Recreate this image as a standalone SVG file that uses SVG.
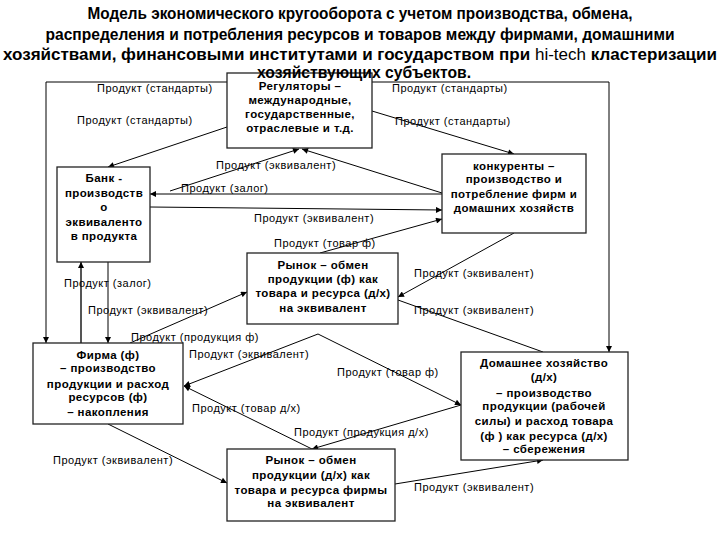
<svg xmlns="http://www.w3.org/2000/svg" width="720" height="540" viewBox="0 0 720 540">
<defs>
<marker id="ar" viewBox="0 0 10 10" refX="10" refY="5" markerWidth="7" markerHeight="6" markerUnits="userSpaceOnUse" orient="auto">
<path d="M0,0 L10,5 L0,10 z" fill="#000"/>
</marker>
<style>
.t{font-family:"Liberation Sans",Arial,sans-serif;font-weight:bold;font-size:16px;fill:#000;text-anchor:middle}
.n{fill:#fff;stroke:#222;stroke-width:1.3}
.nt{font-family:"Liberation Sans",Arial,sans-serif;font-weight:bold;font-size:11.5px;letter-spacing:0.4px;fill:#000;text-anchor:middle}
.c{fill:none;stroke:#000;stroke-width:1}
.ca{fill:none;stroke:#000;stroke-width:1;marker-end:url(#ar)}
.l{font-family:"Liberation Sans",Arial,sans-serif;font-size:11px;letter-spacing:0.5px;fill:#000}
</style>
</defs>
<rect width="720" height="540" fill="#fff"/>

<g id="connectors">
<polyline class="ca" points="227,82 46,82 46,343"/>
<polyline class="ca" points="372,82 609,82 609,352"/>
<line class="ca" x1="227" y1="127" x2="108" y2="167"/>
<line class="ca" x1="372" y1="111" x2="514" y2="154"/>
<line class="ca" x1="170" y1="191" x2="299" y2="149"/>
<line class="ca" x1="442" y1="193" x2="302" y2="149"/>
<line class="ca" x1="442" y1="194" x2="150" y2="194"/>
<line class="ca" x1="150" y1="207" x2="442" y2="210"/>
<line class="ca" x1="320" y1="253" x2="442" y2="219"/>
<line class="ca" x1="514" y1="233" x2="398" y2="297"/>
<line class="c" x1="398" y1="300" x2="543" y2="352"/>
<line class="ca" x1="81" y1="343" x2="81" y2="262" style="stroke:#555;stroke-width:2"/>
<line class="ca" x1="108" y1="262" x2="108" y2="343"/>
<line class="ca" x1="130" y1="343" x2="247" y2="292"/>
<line class="ca" x1="318" y1="334" x2="184" y2="386"/>
<line class="ca" x1="318" y1="334" x2="461" y2="405"/>
<line class="ca" x1="312" y1="449" x2="184" y2="386"/>
<line class="ca" x1="461" y1="405" x2="312" y2="449"/>
<line class="ca" x1="108" y1="424" x2="227" y2="483"/>
<line class="ca" x1="395" y1="484" x2="543" y2="460"/>
</g>

<g id="labels">
<text class="l" x="97" y="92">Продукт (стандарты)</text>
<text class="l" x="392" y="92">Продукт (стандарты)</text>
<text class="l" x="77" y="124">Продукт (стандарты)</text>
<text class="l" x="395" y="125">Продукт (стандарты)</text>
<text class="l" x="216" y="169">Продукт (эквивалент)</text>
<text class="l" x="181" y="192">Продукт (залог)</text>
<text class="l" x="254" y="222">Продукт (эквивалент)</text>
<text class="l" x="274" y="247">Продукт (товар ф)</text>
<text class="l" x="414" y="277">Продукт (эквивалент)</text>
<text class="l" x="64" y="287">Продукт (залог)</text>
<text class="l" x="414" y="314">Продукт (эквивалент)</text>
<text class="l" x="88" y="314">Продукт (эквивалент)</text>
<text class="l" x="131" y="341">Продукт (продукция ф)</text>
<text class="l" x="189" y="358">Продукт (эквивалент)</text>
<text class="l" x="337" y="376">Продукт (товар ф)</text>
<text class="l" x="192" y="412">Продукт (товар д/х)</text>
<text class="l" x="294" y="436">Продукт (продукция д/х)</text>
<text class="l" x="53" y="464">Продукт (эквивалент)</text>
<text class="l" x="414" y="491">Продукт (эквивалент)</text>
</g>

<g id="regulators">
<rect class="n" x="227" y="73" width="145" height="75"/>
<text class="nt" x="300" y="90">Регуляторы –</text>
<text class="nt" x="300" y="104">международные,</text>
<text class="nt" x="300" y="118">государственные,</text>
<text class="nt" x="300" y="132">отраслевые и т.д.</text>
</g>

<g id="bank">
<rect class="n" x="57" y="167" width="93" height="95"/>
<text class="nt" x="104" y="182">Банк -</text>
<text class="nt" x="104" y="197">производств</text>
<text class="nt" x="104" y="211">о</text>
<text class="nt" x="104" y="226">эквиваленто</text>
<text class="nt" x="104" y="240">в продукта</text>
</g>

<g id="competitors">
<rect class="n" x="442" y="154" width="144" height="79"/>
<text class="nt" x="514" y="170">конкуренты –</text>
<text class="nt" x="514" y="183">производство и</text>
<text class="nt" x="514" y="198">потребление фирм и</text>
<text class="nt" x="514" y="212">домашних хозяйств</text>
</g>

<g id="market-f">
<rect class="n" x="247" y="253" width="151" height="71"/>
<text class="nt" x="323" y="269">Рынок – обмен</text>
<text class="nt" x="323" y="283">продукции (ф) как</text>
<text class="nt" x="323" y="297">товара и ресурса (д/х)</text>
<text class="nt" x="323" y="312">на эквивалент</text>
</g>

<g id="firm">
<rect class="n" x="33" y="343" width="150" height="81"/>
<text class="nt" x="108" y="359">Фирма (ф)</text>
<text class="nt" x="108" y="372">– производство</text>
<text class="nt" x="108" y="388">продукции и расход</text>
<text class="nt" x="108" y="401">ресурсов (ф)</text>
<text class="nt" x="108" y="416">– накопления</text>
</g>

<g id="household">
<rect class="n" x="461" y="352" width="167" height="108"/>
<text class="nt" x="544" y="367">Домашнее хозяйство</text>
<text class="nt" x="544" y="381">(д/х)</text>
<text class="nt" x="544" y="397">– производство</text>
<text class="nt" x="544" y="410">продукции  (рабочей</text>
<text class="nt" x="544" y="425">силы) и расход товара</text>
<text class="nt" x="544" y="440">(ф ) как ресурса (д/х)</text>
<text class="nt" x="544" y="453">– сбережения</text>
</g>

<g id="market-hh">
<rect class="n" x="227" y="449" width="168" height="72"/>
<text class="nt" x="311" y="464">Рынок – обмен</text>
<text class="nt" x="311" y="479">продукции (д/х) как</text>
<text class="nt" x="311" y="494">товара  и ресурса фирмы</text>
<text class="nt" x="311" y="507">на эквивалент</text>
</g>

<g id="title">
<text class="t" x="360" y="19" textLength="545" lengthAdjust="spacingAndGlyphs">Модель экономического кругооборота с учетом производства, обмена,</text>
<text class="t" x="360" y="40" textLength="629" lengthAdjust="spacingAndGlyphs">распределения и потребления ресурсов и товаров между фирмами, домашними</text>
<text class="t" x="360" y="60" textLength="714" lengthAdjust="spacingAndGlyphs">хозяйствами, финансовыми институтами и государством при <tspan font-weight="normal">hi-tech</tspan> кластеризации</text>
<text class="t" x="364" y="78" textLength="214" lengthAdjust="spacingAndGlyphs">хозяйствующих субъектов.</text>
</g>
</svg>
